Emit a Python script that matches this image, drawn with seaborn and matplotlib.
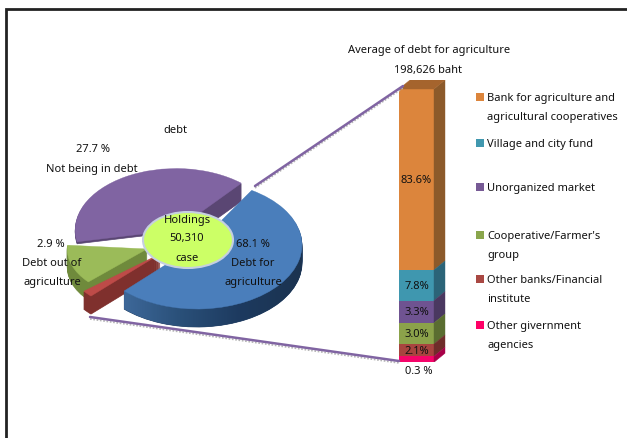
import numpy as np
import seaborn as sns
import matplotlib
matplotlib.use('Agg')
import matplotlib.pyplot as plt
from matplotlib.colors import LinearSegmentedColormap
from matplotlib.patches import Wedge, Ellipse, Polygon

W, H = 627, 439

# pie slices, share of the drawn circle as it looks in the picture
# (the 3D view does not follow the printed percentages)
slice_names = ['Debt for agriculture', 'Not being in debt', 'Debt out of agriculture', 'Other']
slice_shares = [53.5, 39.3, 13.1, 1.75]
slice_start = [-134.0, 49.6, 175.5, 218.7]

# stacked column, height of each block as drawn
seg_names = ['Bank for agriculture and\nagricultural cooperatives', 'Village and city fund',
             'Unorganized market', "Cooperative/Farmer's\ngroup",
             'Other banks/Financial\ninstitute', 'Other givernment\nagencies']
seg_heights = [66.3, 11.2, 8.2, 7.7, 4.5, 2.2]
seg_labels = ['83.6%', '7.8%', '3.3%', '3.0%', '2.1%', '']

# colours
slice_top = ['#4a7ebb', '#8064a2', '#9bbb59', '#be4b48']
slice_wall = ['#1d3a5f', '#5a4673', '#6f8a3c', '#7f302d']
seg_front = ['#dc853c', '#3f97af', '#6f5391', '#8ba24a', '#a8443f', '#f5056a']
seg_side = ['#8c5a2a', '#2b6478', '#4a3860', '#5a6d30', '#6f2d2a', '#a80048']
legend_cols = ['#dc853c', '#4198af', '#775a95', '#8aa64c', '#a94843', '#ff0066']

sns.set_theme(style='white')
plt.rcParams['font.family'] = ['Noto Sans', 'DejaVu Sans']
plt.rcParams['font.size'] = 8

fig = plt.figure(figsize=(W / 100, H / 100), dpi=100)


def px_axes(left, top, right, bottom):
    return fig.add_axes([left / W, 1 - bottom / H, (right - left) / W, (bottom - top) / H])


# --- pie, unit circle squashed to 105x64 px around (197, 246)
pie = px_axes(197 - 157.5, 246 - 96, 197 + 157.5, 246 + 96)
pie.set_xlim(-1.5, 1.5)
pie.set_ylim(-1.5, 1.5)
pie.axis('off')
px_x, px_y = 1 / 105, 1 / 64
depth = 18

centres = [(0, 0), (-21 * px_x, 15 * px_y), (-50 * px_x, -4 * px_y), (-37 * px_x, -9 * px_y)]
radii = [1.0, 0.96, 0.76, 0.93]

for i in [1, 2, 3, 0]:
    th1 = slice_start[i]
    th2 = th1 + slice_shares[i] * 3.6
    cx, cy = centres[i]
    for d in range(depth, 0, -1):
        # purple only shows its side under the right hand cut, 2 px elsewhere
        if i == 1 and d > 2:
            pie.add_patch(Wedge((cx, cy - d * px_y), radii[i], th1, th1 + 60, fc=slice_wall[i], ec=slice_wall[i], lw=0.5))
        else:
            pie.add_patch(Wedge((cx, cy - d * px_y), radii[i], th1, th2, fc=slice_wall[i], ec=slice_wall[i], lw=0.5))
    pie.add_patch(Wedge((cx, cy), radii[i], th1, th2, fc=slice_top[i], ec=slice_top[i], lw=0.3, zorder=3 if i == 0 else 2))

# blue outer wall gets the light to dark shading
t = np.radians(np.linspace(slice_start[0], 0, 60))
upper = np.c_[np.cos(t), np.sin(t)]
lower = upper[::-1] - [0, depth * px_y]
wall = Polygon(np.r_[upper, lower], closed=True, transform=pie.transData, fc='none', ec='none')
pie.add_patch(wall)
shade = LinearSegmentedColormap.from_list('wall', ['#3f6a9c', '#2a5079', '#1d3a5f', '#1b3350'])
im = pie.imshow(np.linspace(0, 1, 100).reshape(1, -1), cmap=shade, extent=(-0.75, 1, -1.5, 0), aspect='auto', zorder=1.5)
im.set_clip_path(wall)
pie.set_xlim(-1.5, 1.5)
pie.set_ylim(-1.5, 1.5)

# --- stacked column, 35 px wide and 273 px high, with room for the 3D side
col = px_axes(399, 81, 446, 363)
bottom = 100.0
for i, h in enumerate(seg_heights):
    bottom -= h
    sns.barplot(x=['col'], y=[h], bottom=bottom, color=seg_front[i], saturation=1, width=1, linewidth=0, ax=col)
    col.bar_label(col.containers[-1], labels=[seg_labels[i]], label_type='center', fontsize=8, color='#111111')
    side = [(0.5, bottom), (0.5 + 11 / 35, bottom + 3.3), (0.5 + 11 / 35, bottom + h + 3.3), (0.5, bottom + h)]
    col.add_patch(Polygon(side, fc=seg_side[i], ec=seg_side[i], lw=0.3))
col.add_patch(Polygon([(-0.5, 100), (-0.5 + 11 / 35, 103.3), (0.5 + 11 / 35, 103.3), (0.5, 100)], fc='#a5642d', ec='#a5642d', lw=0.3))
col.set_xlim(-0.5, -0.5 + 47 / 35)
col.set_ylim(0, 100 * 282 / 273)
col.axis('off')

# --- overlay in picture pixels: frame, connector lines, texts
ov = fig.add_axes([0, 0, 1, 1], zorder=5)
ov.set_xlim(0, W)
ov.set_ylim(H, 0)
ov.axis('off')
ov.patch.set_alpha(0)

ov.plot([6, 6, W], [H, 10, 10], color='#222222', lw=2, solid_joinstyle='miter')

for xs, ys in [([255, 403], [187, 87]), ([90, 399], [318, 362])]:
    ov.plot(xs, [y + 2 for y in ys], color='#b5b5b5', lw=1.2, ls=(0, (1, 1)))
    ov.plot(xs, ys, color='#8064a2', lw=1.8)

pie_texts = [('debt', 175, 131), ('27.7 %', 93, 150), ('Not being in debt', 92, 170),
             ('2.9 %', 51, 245), ('Debt out of', 52, 264), ('agriculture', 52, 283),
             ('Holdings', 187, 221), ('50,310', 187, 239), ('case', 187, 259),
             ('68.1 %', 253, 245), ('Debt for', 253, 264), ('agriculture', 253, 283),
             ('Average of debt for agriculture', 429, 51), ('198,626 baht', 428, 70), ('0.3 %', 419, 372)]

ov.add_patch(Ellipse((188, 241), 90, 56, fc='#ccff66', ec='#c5cfe0', lw=1.5))
for s, x, y in pie_texts:
    ov.text(x, y, s, ha='center', va='center', color='#111111')

# hand placed legend, rows as in the picture
legend_y = [98, 144, 188, 236, 280, 326]
for name, c, y in zip(seg_names, legend_cols, legend_y):
    ov.scatter([479.5], [y], marker='s', s=36, color=c, linewidths=0)
    for k, line in enumerate(name.split('\n')):
        ov.text(487, y + 1 + k * 19, line, ha='left', va='center', color='#111111')

fig.savefig('out.png', dpi=100)
